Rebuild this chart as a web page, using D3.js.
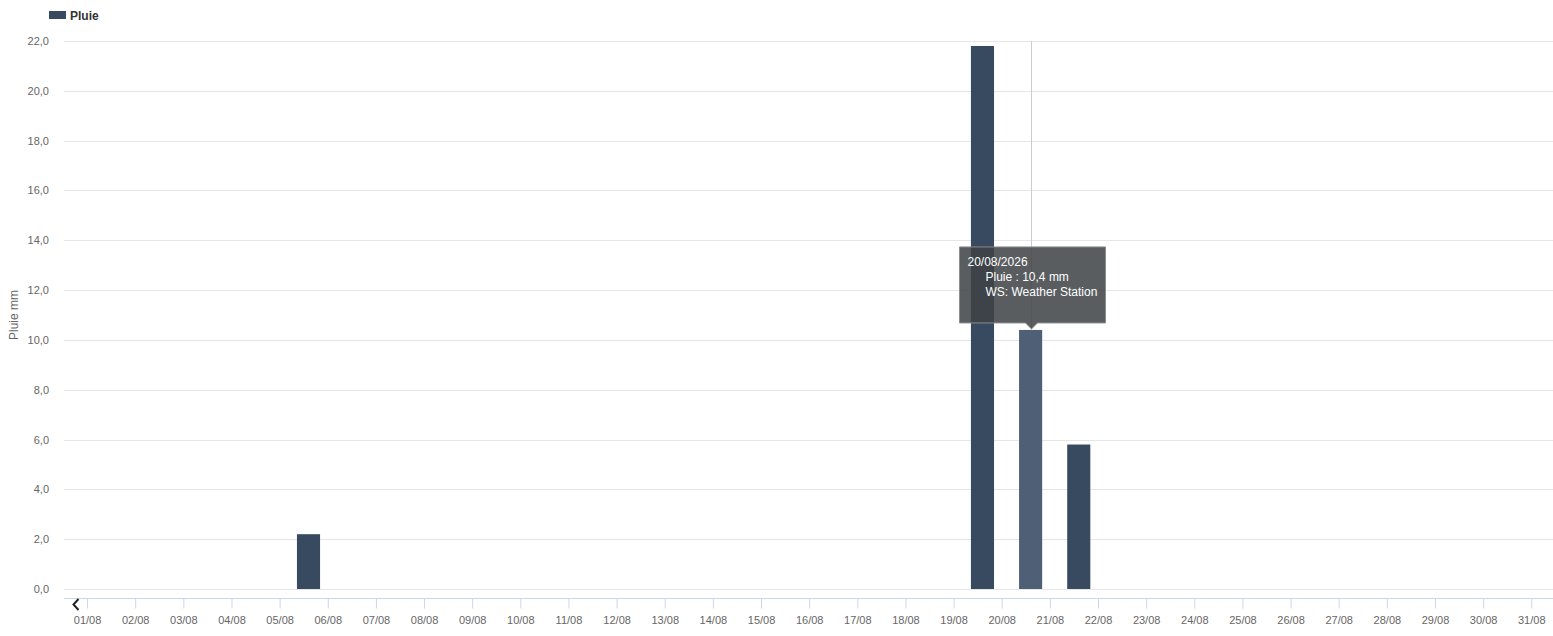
<!DOCTYPE html>
<html>
<head>
<meta charset="utf-8">
<script src="https://cdn.jsdelivr.net/npm/d3@7"></script>
<style>
  body { margin: 0; background: #fff; }
  svg { display: block; font-family: "Liberation Sans", Arial, sans-serif; }
</style>
</head>
<body>
<svg id="chart"></svg>
<script>
// rain per day, august 2026
var rainDates = ["2026-08-05", "2026-08-19", "2026-08-20", "2026-08-21"];
var rainValues = [2.2, 21.8, 10.4, 5.8];
var yTicks = [0, 2, 4, 6, 8, 10, 12, 14, 16, 18, 20, 22];
var firstDay = "2026-08-01", lastDay = "2026-08-31";
var hoverIndex = 2;
var seriesName = "Pluie", unit = "mm", stationName = "Weather Station";

(function () {
  "use strict";

  var W = 1553, H = 636;
  var left = 64, right = 1553, top = 41, bottom = 589;
  var parse = d3.timeParse("%Y-%m-%d");
  var d0 = parse(firstDay), d1 = parse(lastDay);

  var svg = d3.select("#chart").attr("width", W).attr("height", H);

  var x = d3.scaleTime()
    .domain([d3.timeMinute.offset(d0, -690), d3.timeMinute.offset(d1, 650)])
    .range([left, right]);
  var y = d3.scaleLinear().domain([0, 22]).range([bottom, top]);
  var dayW = x(d3.timeDay.offset(d0, 1)) - x(d0);

  var fmt = function (v) { return d3.format(".1f")(v).replace(".", ","); };

  // grid
  svg.append("g").selectAll("line").data(yTicks).enter().append("line")
    .attr("x1", left).attr("x2", right)
    .attr("y1", function (d) { return Math.round(y(d)) + 0.5; })
    .attr("y2", function (d) { return Math.round(y(d)) + 0.5; })
    .attr("stroke", "#e6e6e6");

  // y labels
  svg.append("g").selectAll("text").data(yTicks).enter().append("text")
    .attr("x", 49).attr("y", function (d) { return y(d) + 4; })
    .attr("text-anchor", "end").attr("font-size", 11).attr("fill", "#666")
    .text(fmt);

  svg.append("text")
    .attr("transform", "translate(18," + ((top + bottom) / 2) + ") rotate(-90)")
    .attr("text-anchor", "middle").attr("font-size", 12).attr("fill", "#666")
    .text(seriesName + " " + unit);

  // x axis
  var xAxis = d3.axisBottom(x)
    .ticks(d3.timeDay.every(1))
    .tickFormat(d3.timeFormat("%d/%m"))
    .tickSize(10).tickPadding(8);
  var gx = svg.append("g").attr("transform", "translate(0,598.5)").call(xAxis);
  gx.select(".domain").attr("stroke", "#ccd6eb").attr("d", "M" + left + ",0H" + right);
  gx.selectAll(".tick line").attr("stroke", "#ccd6eb");
  gx.selectAll(".tick text").attr("fill", "#666").attr("font-size", 11)
    .attr("font-family", "Liberation Sans, Arial, sans-serif");

  // back arrow
  svg.append("path").attr("d", "M78.5,599 L73.5,604.5 L78.5,610")
    .attr("fill", "none").attr("stroke", "#222").attr("stroke-width", 2);

  var center = function (i) {
    return x(d3.timeMinute.offset(parse(rainDates[i]), 864));
  };

  // crosshair
  var hx = Math.round(center(hoverIndex)) + 0.5;
  svg.append("line").attr("x1", hx).attr("x2", hx).attr("y1", top).attr("y2", bottom)
    .attr("stroke", "#ccc");

  // bars
  var bw = dayW * 0.48;
  svg.append("g").selectAll("rect").data(rainValues).enter().append("rect")
    .attr("x", function (d, i) { return center(i) - bw / 2; })
    .attr("width", bw)
    .attr("y", function (d) { return y(d); })
    .attr("height", function (d) { return bottom - y(d); })
    .attr("fill", function (d, i) { return i === hoverIndex ? "#4f5f75" : "#384a5f"; });

  // legend
  svg.append("rect").attr("x", 49).attr("y", 11).attr("width", 17).attr("height", 8)
    .attr("fill", "#384a5f");
  svg.append("text").attr("x", 70).attr("y", 20).attr("font-size", 12)
    .attr("font-weight", "bold").attr("fill", "#333").text(seriesName);

  // tooltip
  var tipX = hx, tipY = y(rainValues[hoverIndex]) - 1;
  var bx = tipX - 72, by = tipY - 82, bwid = 146, bh = 76;
  var tip = svg.append("g");
  tip.append("path")
    .attr("d", "M" + bx + "," + by + "h" + bwid + "v" + bh + "H" + (tipX + 6) +
      "L" + tipX + "," + tipY + "L" + (tipX - 6) + "," + (by + bh) + "H" + bx + "Z")
    .attr("fill", "rgba(62,66,70,0.86)").attr("stroke", "#8a8c8e").attr("stroke-width", 1);
  var lines = [
    { t: d3.timeFormat("%d/%m/%Y")(parse(rainDates[hoverIndex])), dx: 8, dy: 19 },
    { t: seriesName + " : " + fmt(rainValues[hoverIndex]) + " " + unit, dx: 26, dy: 34 },
    { t: "WS: " + stationName, dx: 26, dy: 49 }
  ];
  tip.selectAll("text").data(lines).enter().append("text")
    .attr("x", function (d) { return bx + d.dx; })
    .attr("y", function (d) { return by + d.dy; })
    .attr("font-size", 12).attr("fill", "#fff")
    .text(function (d) { return d.t; });
})();
</script>
</body>
</html>
